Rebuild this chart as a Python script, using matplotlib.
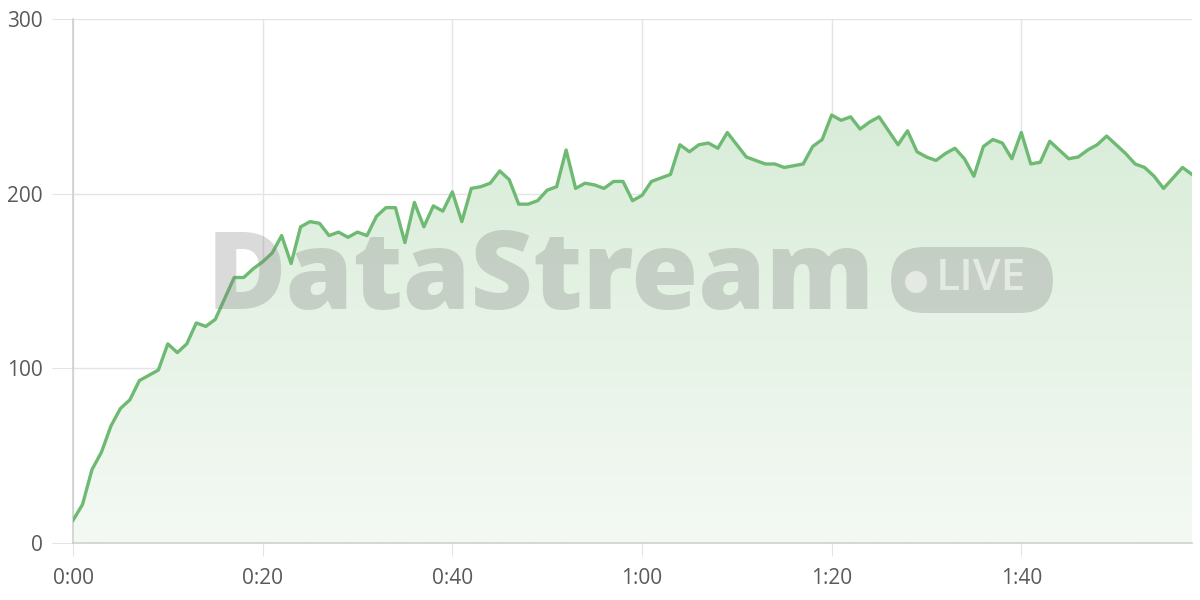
import numpy as np
import matplotlib
matplotlib.use("Agg")
import matplotlib.pyplot as plt
from matplotlib.patches import FancyBboxPatch, Ellipse
from matplotlib.colors import LinearSegmentedColormap

# ---- data ----
values = [13, 22, 42, 52, 67, 77, 82, 93, 96, 99,
          114, 109, 114, 126, 124, 128, 140, 152, 152, 157,
          161, 166, 176, 160, 181, 184, 183, 176, 178, 175,
          178, 176, 187, 192, 192, 172, 195, 181, 193, 190,
          201, 184, 203, 204, 206, 213, 208, 194, 194, 196,
          202, 204, 225, 203, 206, 205, 203, 207, 207, 196,
          199, 207, 209, 211, 228, 224, 228, 229, 226, 235,
          228, 221, 219, 217, 217, 215, 216, 217, 227, 231,
          245, 242, 244, 237, 241, 244, 236, 228, 236, 224,
          221, 219, 223, 226, 220, 210, 227, 231, 229, 220,
          235, 217, 218, 230, 225, 220, 221, 225, 228, 233,
          228, 223, 217, 215, 210, 203, 209, 215, 211]
seconds = list(range(len(values)))
x_ticks = [0, 20, 40, 60, 80, 100]
x_tick_labels = ["0:00", "0:20", "0:40", "1:00", "1:20", "1:40"]
y_ticks = [0, 100, 200, 300]

LINE = "#6fba73"
GRID = "#e4e4e4"
TXT = "#5a5a5a"
FONT = "Open Sans"
W, H = 1200, 600

def fx(px):
    return px / W

def fy(py):
    return (H - py) / H

fig = plt.figure(figsize=(12, 6), dpi=100)
ax = fig.add_axes([fx(73), fy(543), (1192 - 73) / W, (543 - 19) / H])
ax.set_xlim(0, seconds[-1])
ax.set_ylim(0, 300)

# gradient fill under the line
x = np.array(seconds, dtype=float)
y = np.array(values, dtype=float)
poly = ax.fill_between(x, y, 0, color="none", lw=0)
grad = np.linspace(0, 1, 256).reshape(-1, 1)
cmap = LinearSegmentedColormap.from_list("g", ["#f4f9f4", "#d8ecd8"])
im = ax.imshow(grad, aspect="auto", cmap=cmap, origin="lower",
               extent=[0, seconds[-1], 0, 250], zorder=1)
im.set_clip_path(poly.get_paths()[0], transform=ax.transData)

# watermark
WM = "#7a7a7a"
WA = 0.28
fig.text(fx(207), fy(281), "DataStream", fontsize=78, fontweight="heavy",
         family="Open Sans", color=WM, alpha=WA, ha="left", va="center", zorder=2)
box = FancyBboxPatch((fx(891), fy(313)), fx(1053 - 891), (313 - 247) / H,
                     boxstyle="round,pad=0,rounding_size=0.0275",
                     transform=fig.transFigure, facecolor=WM, alpha=WA,
                     edgecolor="none", zorder=2, mutation_aspect=2.0)
fig.add_artist(box)
dot = Ellipse((fx(916), fy(282)), 22 / W, 22 / H, transform=fig.transFigure,
              facecolor="white", alpha=0.55, edgecolor="none", zorder=3)
fig.add_artist(dot)
fig.text(fx(936), fy(279), "LIVE", fontsize=32, fontweight="semibold",
         family="Open Sans", color="white", alpha=0.55, ha="left", va="center",
         zorder=3)

ax.plot(x, y, color=LINE, lw=2.4, zorder=4)

ax.set_xticks(x_ticks)
ax.set_xticklabels(x_tick_labels)
ax.set_yticks(y_ticks)
ax.grid(True, color=GRID, lw=1, zorder=0)
ax.set_axisbelow(True)
for s in ["top", "right"]:
    ax.spines[s].set_visible(False)
for s in ["left", "bottom"]:
    ax.spines[s].set_color("#cfcfcf")
    ax.spines[s].set_linewidth(1.2)
ax.tick_params(axis="y", length=15, color=GRID, pad=7, labelsize=15, labelcolor=TXT)
ax.tick_params(axis="x", length=9, color=GRID, pad=9, labelsize=15, labelcolor=TXT)
for lab in ax.get_xticklabels() + ax.get_yticklabels():
    lab.set_family(FONT)

fig.savefig("out.png", dpi=100)
